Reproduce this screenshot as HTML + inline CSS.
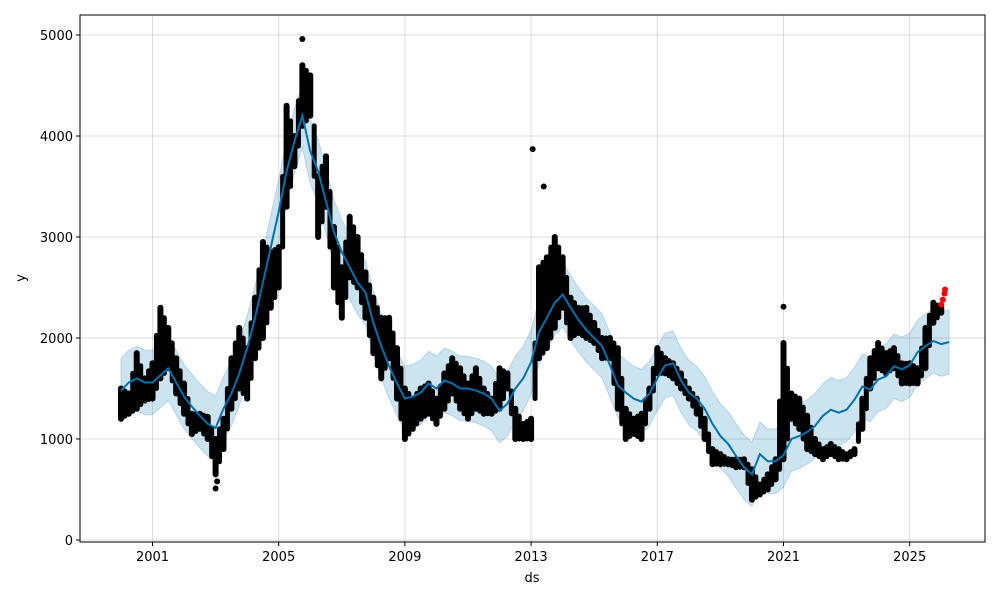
<!DOCTYPE html>
<html><head><meta charset="utf-8"><style>
html,body{margin:0;padding:0;background:#fff;width:1000px;height:600px;overflow:hidden}
svg text{font-family:"DejaVu Sans","Liberation Sans",sans-serif;font-size:13px;fill:#000}
</style></head><body>
<svg id="chart" width="1000" height="600" xmlns="http://www.w3.org/2000/svg">
<g id="grid"></g>
<g id="band"></g>
<g id="obs"></g>
<g id="line"></g>
<g id="axes"></g>
<text x="532" y="582" text-anchor="middle">ds</text>
<text x="0" y="0" transform="translate(25,278) rotate(-90)" text-anchor="middle">y</text>
</svg>
<script>
const startYear = 2000.0;
const stepYears = 0.25;
const yhat = [1480,1560,1600,1560, 1560,1630,1700,1560, 1420,1320,1230,1150, 1110,1300,1450,1650,
 1900,2200,2550,2900, 3250,3650,3950,4200, 3850,3650,3350,3050, 2850,2700,2550,2450,
 2150,1920,1720,1550, 1400,1420,1460,1550, 1500,1580,1550,1500, 1500,1480,1450,1400,
 1280,1350,1500,1600, 1760,2060,2200,2350, 2430,2300,2180,2080, 2000,1920,1730,1530,
 1460,1400,1370,1450, 1600,1730,1750,1580, 1460,1400,1300,1150, 1030,950,830,720,
 650,850,780,780, 840,1000,1030,1070, 1130,1230,1290,1260, 1290,1390,1520,1490,
 1590,1620,1720,1690, 1730,1860,1920,1970, 1940,1960];
const intervalHalfWidth = 320;
const obsLow = [1200,1250,1300,1380, 1400,1600,1700,1450, 1250,1050,1100,1000, 650,900,1300,1500,
 1400,1800,2000,2300, 2500,3300,3700,4100, 4200,3000,3300,2500, 2200,2600,2500,2200,
 1850,1600,1800,1400, 1000,1100,1200,1250, 1150,1300,1450,1300, 1200,1300,1250,1250,
 1300,1500,1000,1000, 1000,1800,1900,2100, 2300,2000,2050,2000, 1950,1800,1800,1300,
 1000,1050,1000,1300, 1650,1650,1600,1500, 1400,1250,1000,750, 750,750,720,720,
 400,450,500,600, 800,1200,1100,900, 850,800,850,800, 800,850,1100,1500,
 1700,1650,1700,1550, 1550,1550,1700,2150, 2250];
const obsHigh = [1500,1450,1850,1600, 1750,2300,2100,1800, 1550,1250,1250,1220, 1000,1200,1800,2100,
 1900,2400,2950,2850, 2900,4300,4000,4700, 4600,3600,3800,3100, 2700,3200,3000,2650,
 2400,2200,2200,1900, 1500,1400,1500,1550, 1400,1650,1800,1700, 1550,1700,1500,1400,
 1700,1650,1300,1150, 1200,2700,2800,3000, 2800,2400,2300,2300, 2150,2000,2000,1900,
 1300,1200,1250,1500, 1900,1800,1750,1650, 1500,1400,1200,900, 850,800,800,800,
 700,550,650,800, 1950,1450,1400,1230, 1000,900,950,900, 850,900,1400,1800,
 1950,1850,1900,1750, 1750,1700,2100,2350, 2300];
const outlierYears = [2003.0,2003.05,2005.75,2013.05,2013.4,2021.0];
const outlierValues = [510,580,4960,3870,3500,2310];
const recentYears = [2026.0,2026.05,2026.1,2026.12];
const recentValues = [2330,2380,2440,2480];
const xTickLabels = ["2001","2005","2009","2013","2017","2021","2025"];
const yTickLabels = ["0","1000","2000","3000","4000","5000"];

const NS="http://www.w3.org/2000/svg";
const L=80,R=985,T=15,B=542;
function xs(yr){return 152.5+(yr-2001)*31.55;}
function ys(v){return 540-v*0.101;}
function mk(tag,parent,attrs){const e=document.createElementNS(NS,tag);for(const k in attrs)e.setAttribute(k,attrs[k]);parent.appendChild(e);return e;}
const grid=document.getElementById('grid'),axes=document.getElementById('axes');
xTickLabels.forEach(t=>{const x=xs(+t);
 const g=mk('line',grid,{x1:x,x2:x,y1:T,y2:B,stroke:'#000','stroke-opacity':0.13,'stroke-width':1});
 
 
 mk('line',axes,{x1:x,x2:x,y1:B,y2:B+4,stroke:'#000'});
 const tx=mk('text',axes,{x:x,y:B+19,'text-anchor':'middle'});tx.textContent=t;
 
 
});
yTickLabels.forEach(t=>{const y=ys(+t);
 const g=mk('line',grid,{x1:L,x2:R,y1:y,y2:y,stroke:'#000','stroke-opacity':0.13,'stroke-width':1});
 
 
 mk('line',axes,{x1:L-4,x2:L,y1:y,y2:y,stroke:'#000'});
 const tx=mk('text',axes,{x:L-7,y:y+5,'text-anchor':'end'});tx.textContent=t;
 
 
});
const fr=mk('rect',axes,{x:L,y:T,width:R-L,height:B-T,fill:'none',stroke:'#000','stroke-width':1});



// band
let up=[],lo=[];
yhat.forEach((v,i)=>{const x=xs(startYear+i*stepYears);up.push(x+','+ys(v+intervalHalfWidth));lo.unshift(x+','+ys(v-intervalHalfWidth));});
const bp=mk('polygon',document.getElementById('band'),{points:up.concat(lo).join(' '),fill:'#0072B2','fill-opacity':0.2,stroke:'#0072B2','stroke-opacity':0.2,'stroke-width':1});



// observed: columns of dots spanning low..high at each step
const obs=document.getElementById('obs');
obsLow.forEach((v,i)=>{const x=xs(startYear+i*stepYears);
 const col=mk('line',obs,{x1:x,x2:x,y1:ys(v),y2:ys(obsHigh[i]),stroke:'#000','stroke-width':6,'stroke-linecap':'round'});
 
 
 if(i+1<obsLow.length){
  const x2=xs(startYear+(i+1)*stepYears);
  const mid=(x+x2)/2;
  const lo2=(v+obsLow[i+1])/2, hi2=(obsHigh[i]+obsHigh[i+1])/2;
  const c2=mk('line',obs,{x1:mid,x2:mid,y1:ys(lo2),y2:ys(hi2),stroke:'#000','stroke-width':5,'stroke-linecap':'round'});
  
  
 }
});
outlierYears.forEach((yr,i)=>{const c=mk('circle',obs,{cx:xs(yr),cy:ys(outlierValues[i]),r:3,fill:'#000'});
 
 });
recentYears.forEach((yr,i)=>{const c=mk('circle',obs,{cx:xs(yr),cy:ys(recentValues[i]),r:3,fill:'#ff0000'});
 
 });

// line
const pts=yhat.map((v,i)=>xs(startYear+i*stepYears)+','+ys(v)).join(' ');
const pl=mk('polyline',document.getElementById('line'),{points:pts,fill:'none',stroke:'#0072B2','stroke-width':2});


</script>
</body></html>
